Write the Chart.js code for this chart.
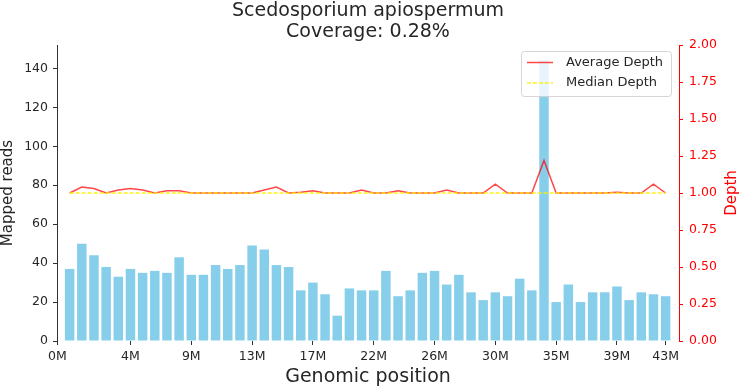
<!DOCTYPE html>
<html>
<head>
<meta charset="utf-8">
<script src="https://cdn.jsdelivr.net/npm/chart.js@4.4.1/dist/chart.umd.min.js"></script>
<style>
  html, body { margin: 0; padding: 0; background: #fff; }
  #wrap { width: 740px; height: 388px; }
</style>
</head>
<body>
<div id="wrap"><canvas id="coverage" width="740" height="388"></canvas></div>
<script>
const titleLines = ['Scedosporium apiospermum', 'Coverage: 0.28%'];

// bin index of each bar
const binPos = [0, 1, 2, 3, 4, 5, 6, 7, 8, 9, 10, 11, 12, 13, 14, 15, 16, 17, 18, 19,
  20, 21, 22, 23, 24, 25, 26, 27, 28, 29, 30, 31, 32, 33, 34, 35, 36, 37, 38, 39,
  40, 41, 42, 43, 44, 45, 46, 47, 48, 49];
const mappedReads = [37, 50, 44, 38, 33, 37, 35, 36, 35, 43, 34, 34, 39, 37, 39, 49, 47, 39, 38, 26,
  30, 24, 13, 27, 26, 26, 36, 23, 26, 35, 36, 29, 34, 25, 21, 25, 23, 32, 26, 144,
  20, 29, 20, 25, 25, 28, 21, 25, 24, 23];
const avgDepth = [1.0, 1.04, 1.03, 1.0, 1.02, 1.03, 1.02, 1.0, 1.015, 1.015, 1.0, 1.0, 1.0, 1.0, 1.0, 1.0, 1.02, 1.04, 1.0, 1.005,
  1.015, 1.0, 1.0, 1.0, 1.02, 1.0, 1.0, 1.015, 1.0, 1.0, 1.0, 1.02, 1.0, 1.0, 1.0, 1.06, 1.0, 1.0, 1.0, 1.22,
  1.0, 1.0, 1.0, 1.0, 1.0, 1.005, 1.0, 1.0, 1.06, 1.0];
const medianDepth = 1.0;

const xTickPos = [-1, 5, 10, 15, 20, 25, 30, 35, 40, 45, 49];
const xTickLabels = ['0M', '4M', '9M', '13M', '17M', '22M', '26M', '30M', '35M', '39M', '43M'];
const readTicks = [0, 20, 40, 60, 80, 100, 120, 140];
const depthTicks = [0, 0.25, 0.5, 0.75, 1.0, 1.25, 1.5, 1.75, 2.0];

const FONT = '"DejaVu Sans", sans-serif';
const TEXT = '#262626';
const BAR = '#87CEEB';
const AVG = 'rgba(255, 0, 0, 0.72)';
const MED = 'rgba(255, 240, 0, 0.9)';

Chart.defaults.font.family = FONT;

const textPlugin = {
  id: 'texts',
  afterDatasetsDraw(chart) {
    const ctx = chart.ctx;
    // legend box, upper right
    ctx.save();
    ctx.beginPath();
    ctx.roundRect(521.5, 51.5, 150, 45, 3);
    ctx.fillStyle = 'rgba(255,255,255,0.8)';
    ctx.fill();
    ctx.strokeStyle = 'rgba(204,204,204,0.8)';
    ctx.lineWidth = 1;
    ctx.stroke();

    ctx.lineWidth = 1.5;
    ctx.strokeStyle = AVG;
    ctx.beginPath();
    ctx.moveTo(527, 62.5);
    ctx.lineTo(553, 62.5);
    ctx.stroke();
    ctx.strokeStyle = MED;
    ctx.setLineDash([4, 2]);
    ctx.beginPath();
    ctx.moveTo(527, 83);
    ctx.lineTo(553, 83);
    ctx.stroke();
    ctx.setLineDash([]);

    ctx.fillStyle = TEXT;
    ctx.font = '13px ' + FONT;
    ctx.textAlign = 'left';
    ctx.textBaseline = 'middle';
    ctx.fillText(chart.data.datasets[1].label, 566, 63);
    ctx.fillText(chart.data.datasets[2].label, 566, 83);
    ctx.restore();
  },
  afterDraw(chart) {
    const ctx = chart.ctx;
    ctx.save();
    ctx.fillStyle = TEXT;
    ctx.textAlign = 'center';
    ctx.textBaseline = 'alphabetic';
    ctx.font = '19px ' + FONT;
    ctx.fillText(titleLines[0], 368, 16);
    ctx.fillText(titleLines[1], 368, 36.5);

    ctx.font = '19px ' + FONT;
    ctx.fillText('Genomic position', 368, 382);

    ctx.font = '15px ' + FONT;
    ctx.translate(12, 193);
    ctx.rotate(-Math.PI / 2);
    ctx.fillText('Mapped reads', 0, 0);
    ctx.restore();

    ctx.save();
    ctx.fillStyle = 'red';
    ctx.textAlign = 'center';
    ctx.font = '15px ' + FONT;
    ctx.translate(736, 193);
    ctx.rotate(-Math.PI / 2);
    ctx.fillText('Depth', 0, 0);
    ctx.restore();
  },
};

new Chart(document.getElementById('coverage'), {
  data: {
    datasets: [
      {
        type: 'bar',
        label: 'Mapped reads',
        data: binPos.map((x, i) => ({ x, y: mappedReads[i] })),
        backgroundColor: BAR,
        borderWidth: 0,
        barPercentage: 0.78,
        categoryPercentage: 1,
        yAxisID: 'y',
        order: 3,
      },
      {
        type: 'line',
        label: 'Average Depth',
        data: binPos.map((x, i) => ({ x, y: avgDepth[i] })),
        borderColor: AVG,
        borderWidth: 1.5,
        pointRadius: 0,
        tension: 0,
        yAxisID: 'y1',
        order: 2,
      },
      {
        type: 'line',
        label: 'Median Depth',
        data: binPos.map(x => ({ x, y: medianDepth })),
        borderColor: MED,
        borderWidth: 1.5,
        borderDash: [4, 2],
        pointRadius: 0,
        yAxisID: 'y1',
        order: 1,
      },
    ],
  },
  options: {
    responsive: false,
    animation: false,
    devicePixelRatio: 1,
    layout: { padding: { top: 45, left: 0, right: 0, bottom: 0 } },
    plugins: {
      legend: { display: false },
      title: { display: false },
      tooltip: { enabled: false },
    },
    scales: {
      x: {
        type: 'linear',
        offset: false,
        min: -1.04,
        max: 50.1,
        afterBuildTicks: scale => { scale.ticks = xTickPos.map(value => ({ value })); },
        afterFit: scale => { scale.height = 47; },
        ticks: {
          callback: (value, index) => xTickLabels[index],
          color: TEXT,
          font: { size: 12.5 },
          padding: 4,
          maxRotation: 0,
          autoSkip: false,
        },
        grid: { offset: false, drawOnChartArea: false, drawTicks: true, tickLength: 4, color: '#333' },
        border: { display: false },
      },
      y: {
        position: 'left',
        min: 0,
        max: 152,
        afterBuildTicks: scale => { scale.ticks = readTicks.map(value => ({ value })); },
        afterFit: scale => { scale.width = 57; },
        ticks: { color: TEXT, font: { size: 12.5 }, padding: 5 },
        grid: { drawOnChartArea: false, tickLength: 4, color: '#333' },
        border: { display: true, color: '#333', width: 1 },
      },
      y1: {
        position: 'right',
        min: 0,
        max: 2,
        afterBuildTicks: scale => { scale.ticks = depthTicks.map(value => ({ value })); },
        afterFit: scale => { scale.width = 61; },
        ticks: { color: 'red', font: { size: 12.5 }, padding: 6, callback: v => v.toFixed(2) },
        grid: { drawOnChartArea: false, tickLength: 4, color: 'red' },
        border: { display: true, color: 'red', width: 1 },
      },
    },
  },
  plugins: [textPlugin],
});
</script>
</body>
</html>
